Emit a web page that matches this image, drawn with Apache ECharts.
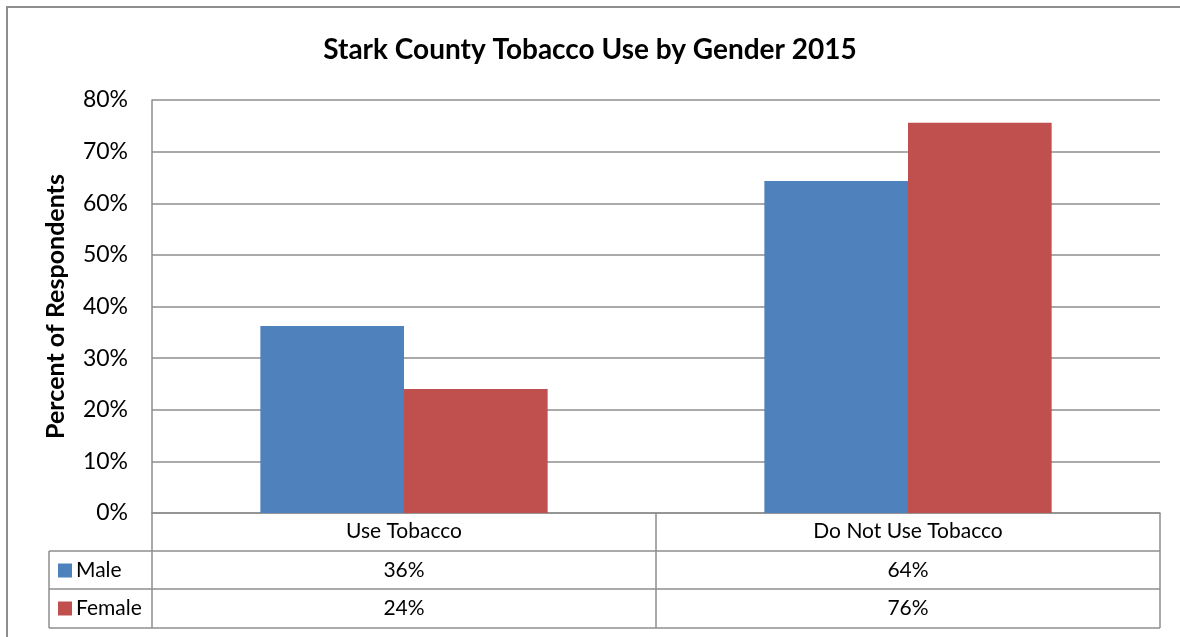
<!DOCTYPE html>
<html>
<head>
<meta charset="utf-8">
<script src="https://cdn.jsdelivr.net/npm/echarts@6/dist/echarts.min.js"></script>
<style>
html,body{margin:0;padding:0;background:#fff;}
#c{width:1180px;height:637px;}
</style>
</head>
<body>
<div id="c"></div>
<script>
const titleText = 'Stark County Tobacco Use by Gender 2015';
const categories = ['Use Tobacco', 'Do Not Use Tobacco'];
const seriesNames = ['Male', 'Female'];
const maleValues = [36.2, 64.3];
const femaleValues = [24.0, 75.6];
const yTicks = [0, 10, 20, 30, 40, 50, 60, 70, 80];

const FONT = 'Lato, "Open Sans", sans-serif';
const COLORS = ['#4F81BD', '#C0504D'];
const LINE = '#8e8e8e';
const GL = 152, GR = 20, GT = 100, GB = 124;
const ROW = 38;

const chart = echarts.init(document.getElementById('c'), null, {renderer: 'canvas'});
const allValues = [maleValues, femaleValues];

chart.setOption({
  animation: false,
  backgroundColor: '#fff',
  title: {
    text: titleText, left: 'center', top: 31,
    textStyle: {fontFamily: FONT, fontSize: 28, fontWeight: 'bold', color: '#000'}
  },
  grid: {left: GL, right: GR, top: GT, bottom: GB, containLabel: false},
  xAxis: {
    type: 'category', data: categories,
    axisLine: {show: true, lineStyle: {color: LINE, width: 1.5}},
    axisTick: {show: false},
    axisLabel: {fontFamily: FONT, fontSize: 21, color: '#000', margin: 8}
  },
  yAxis: {
    type: 'value', min: yTicks[0], max: yTicks[yTicks.length - 1], interval: 10,
    name: 'Percent of Respondents', nameLocation: 'middle', nameGap: 84,
    nameTextStyle: {fontFamily: FONT, fontSize: 25, fontWeight: 'bold', color: '#000'},
    axisLine: {show: true, lineStyle: {color: LINE, width: 1.5}},
    axisTick: {show: false},
    axisLabel: {fontFamily: FONT, fontSize: 23, color: '#000', margin: 24, formatter: '{value}%'},
    splitLine: {show: true, lineStyle: {color: LINE, width: 1.5}}
  },
  series: seriesNames.map((n, i) => ({
    name: n, type: 'bar', data: allValues[i],
    barGap: '0%', barCategoryGap: '43%',
    itemStyle: {color: COLORS[i]}
  }))
});

// Data table below the plot, aligned with the category axis
function drawTable() {
  const W = chart.getWidth(), H = chart.getHeight();
  const x0 = chart.convertToPixel({xAxisIndex: 0}, categories[0]);
  const x1 = chart.convertToPixel({xAxisIndex: 0}, categories[1]);
  const half = (x1 - x0) / 2;
  const left = x0 - half, mid = x0 + half, right = x1 + half;
  const yZero = chart.convertToPixel({yAxisIndex: 0}, 0);
  const r1 = yZero + ROW, r2 = r1 + ROW, r3 = r2 + ROW + 1;
  const legLeft = 49;
  const ls = {stroke: LINE, lineWidth: 1.5};
  const g = [];
  // outer chart border
  g.push({type: 'polyline', shape: {points: [[7, H + 5], [7, 7], [W + 5, 7]]}, style: {stroke: LINE, lineWidth: 2, fill: null}, silent: true});
  // horizontal lines
  g.push({type: 'line', shape: {x1: legLeft, y1: r1, x2: right, y2: r1}, style: ls});
  g.push({type: 'line', shape: {x1: legLeft, y1: r2, x2: right, y2: r2}, style: ls});
  g.push({type: 'line', shape: {x1: legLeft, y1: r3, x2: right, y2: r3}, style: ls});
  // vertical lines
  g.push({type: 'line', shape: {x1: legLeft, y1: r1, x2: legLeft, y2: r3}, style: ls});
  g.push({type: 'line', shape: {x1: left, y1: yZero, x2: left, y2: r3}, style: ls});
  g.push({type: 'line', shape: {x1: mid, y1: yZero, x2: mid, y2: r3}, style: ls});
  g.push({type: 'line', shape: {x1: right, y1: yZero, x2: right, y2: r3}, style: ls});
  const rows = [r1, r2];
  seriesNames.forEach((n, i) => {
    const cy = rows[i] + ROW / 2 + 0.5;
    g.push({type: 'rect', shape: {x: 58, y: cy - 7, width: 14, height: 14}, style: {fill: COLORS[i]}});
    g.push({type: 'text', x: 76, y: cy, style: {text: n, fontFamily: FONT, fontSize: 21, fill: '#000', verticalAlign: 'middle', align: 'left'}});
    categories.forEach((c, j) => {
      const cx = chart.convertToPixel({xAxisIndex: 0}, c);
      g.push({type: 'text', x: cx, y: cy, style: {text: Math.round(allValues[i][j]) + '%', fontFamily: FONT, fontSize: 21, fill: '#000', align: 'center', verticalAlign: 'middle'}});
    });
  });
  chart.setOption({graphic: g});
}
drawTable();
</script>
</body>
</html>
